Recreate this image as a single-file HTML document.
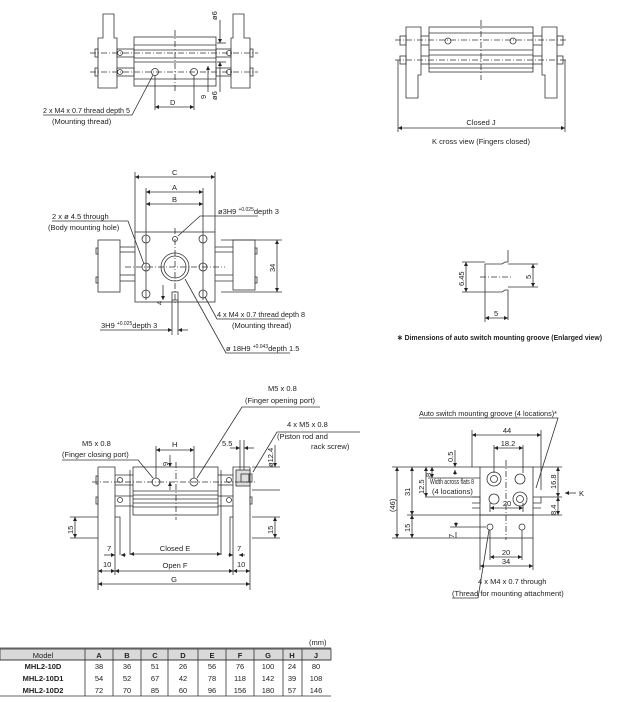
<!DOCTYPE html>
<html><head><meta charset="utf-8"><style>
html,body{margin:0;padding:0;background:#fff}
svg{display:block}
text{font-family:"Liberation Sans",sans-serif;font-size:7.5px;fill:#222}
.b{font-weight:bold}
</style></head><body>
<svg width="617" height="702" viewBox="0 0 617 702" xmlns="http://www.w3.org/2000/svg">
<defs>
<marker id="a" viewBox="0 0 6 6" refX="6" refY="3" markerWidth="5" markerHeight="5" orient="auto-start-reverse"><path d="M0,0L6,3L0,6z" fill="#222"/></marker>
</defs>
<g fill="none" stroke="#333" stroke-width="0.8">
<path d="M103,14H114V38H117V88H98V38H103Z"/>
<path d="M233,14H244V38H250V88H231V38H233Z"/>
<rect x="134" y="37" width="82" height="49"/>
<line x1="134" y1="45" x2="216" y2="45"/><line x1="134" y1="50" x2="216" y2="50"/><line x1="134" y1="58" x2="216" y2="58"/><line x1="134" y1="62" x2="216" y2="62"/><line x1="134" y1="79" x2="216" y2="79"/>
<rect x="117" y="49" width="17" height="8"/><rect x="117" y="68" width="17" height="8"/>
<rect x="216" y="49" width="15" height="8"/><rect x="216" y="68" width="15" height="8"/>
<rect x="95" y="49" width="3" height="8"/><rect x="95" y="68" width="3" height="8"/>
<rect x="250" y="49" width="3" height="8"/><rect x="250" y="68" width="3" height="8"/>
<circle cx="120" cy="53" r="2.5"/><circle cx="120" cy="72" r="2.5"/><circle cx="229" cy="53" r="2.5"/><circle cx="229" cy="72" r="2.5"/>
<circle cx="155" cy="72" r="3.5"/><circle cx="194" cy="72" r="3.5"/>
<line x1="175" y1="30" x2="175" y2="92" stroke-dasharray="6,2,1,2"/>
<line x1="90" y1="53" x2="258" y2="53" stroke-dasharray="6,2,1,2"/><line x1="90" y1="72" x2="258" y2="72" stroke-dasharray="6,2,1,2"/>
<line x1="155" y1="76" x2="155" y2="110"/><line x1="194" y1="76" x2="194" y2="110"/>
<line x1="155" y1="107" x2="194" y2="107" marker-start="url(#a)" marker-end="url(#a)"/>
<line x1="208" y1="66" x2="208" y2="92" marker-start="url(#a)"/>
<line x1="220" y1="20" x2="220" y2="43" marker-end="url(#a)"/><line x1="220" y1="62" x2="220" y2="92" marker-start="url(#a)"/>
<line x1="217" y1="43" x2="226" y2="43"/><line x1="217" y1="62" x2="226" y2="62"/>
<polyline points="43,115 132,115 153,75"/>
<rect x="135" y="232" width="80" height="70"/>
<line x1="135" y1="172" x2="135" y2="232"/><line x1="215" y1="172" x2="215" y2="232"/>
<line x1="146" y1="188" x2="146" y2="300"/><line x1="203" y1="188" x2="203" y2="300"/>
<line x1="135" y1="177" x2="215" y2="177" marker-start="url(#a)" marker-end="url(#a)"/>
<line x1="146" y1="192" x2="203" y2="192" marker-start="url(#a)" marker-end="url(#a)"/>
<line x1="146" y1="204" x2="203" y2="204" marker-start="url(#a)" marker-end="url(#a)"/>
<rect x="98" y="240" width="22" height="52"/><rect x="233" y="240" width="22" height="50"/>
<line x1="120" y1="247" x2="135" y2="247"/><line x1="120" y1="252" x2="135" y2="252"/><line x1="120" y1="275" x2="135" y2="275"/><line x1="120" y1="281" x2="135" y2="281"/>
<line x1="215" y1="247" x2="233" y2="247"/><line x1="215" y1="252" x2="233" y2="252"/><line x1="215" y1="275" x2="233" y2="275"/><line x1="215" y1="281" x2="233" y2="281"/>
<rect x="96" y="248" width="2" height="6"/><rect x="96" y="277" width="2" height="6"/><rect x="255" y="248" width="2" height="6"/><rect x="255" y="277" width="2" height="6"/>
<circle cx="175" cy="267" r="14"/><circle cx="175" cy="267" r="11"/>
<circle cx="146" cy="239" r="4"/><circle cx="203" cy="239" r="4"/><circle cx="146" cy="294" r="4"/><circle cx="203" cy="294" r="4"/>
<circle cx="146" cy="267" r="4"/><circle cx="203" cy="267" r="4"/><circle cx="175" cy="239" r="2.5"/>
<rect x="172" y="292" width="6" height="8"/>
<line x1="175" y1="228" x2="175" y2="305" stroke-dasharray="6,2,1,2"/><line x1="125" y1="267" x2="225" y2="267" stroke-dasharray="6,2,1,2"/>
<line x1="221" y1="240" x2="282" y2="240"/><line x1="221" y1="292" x2="282" y2="292"/>
<line x1="277" y1="240" x2="277" y2="292" marker-start="url(#a)" marker-end="url(#a)"/>
<line x1="172" y1="300" x2="172" y2="335"/><line x1="178" y1="300" x2="178" y2="335"/>
<line x1="162" y1="330" x2="172" y2="330" marker-end="url(#a)"/><line x1="188" y1="330" x2="178" y2="330" marker-end="url(#a)"/>
<polyline points="100,330 162,330"/>
<line x1="163" y1="285" x2="163" y2="300" marker-end="url(#a)"/>
<polyline points="52,221 128,221 144,264"/>
<polyline points="258,216 200,216 178,236"/>
<polyline points="285,319 217,319 205,297"/>
<polyline points="290,353 226,353 185,279"/>
<path d="M406,27H421V75H418V98H406Z"/><path d="M542,27H557V98H545V75H542Z"/>
<rect x="429" y="27" width="104" height="45"/>
<line x1="429" y1="33" x2="533" y2="33"/><line x1="429" y1="50" x2="533" y2="50"/><line x1="429" y1="55" x2="533" y2="55"/><line x1="429" y1="64" x2="533" y2="64"/><line x1="429" y1="68" x2="533" y2="68"/>
<line x1="421" y1="36" x2="429" y2="36"/><line x1="421" y1="45" x2="429" y2="45"/><line x1="421" y1="56" x2="429" y2="56"/><line x1="421" y1="64" x2="429" y2="64"/>
<line x1="533" y1="36" x2="542" y2="36"/><line x1="533" y1="45" x2="542" y2="45"/><line x1="533" y1="56" x2="542" y2="56"/><line x1="533" y1="64" x2="542" y2="64"/>
<rect x="400" y="36" width="6" height="9"/><rect x="400" y="56" width="6" height="8"/><rect x="557" y="36" width="6" height="9"/><rect x="557" y="56" width="6" height="8"/>
<circle cx="448" cy="41" r="3"/><circle cx="513" cy="41" r="3"/>
<line x1="481" y1="20" x2="481" y2="80" stroke-dasharray="6,2,1,2"/>
<line x1="395" y1="40" x2="568" y2="40" stroke-dasharray="6,2,1,2"/><line x1="395" y1="60" x2="568" y2="60" stroke-dasharray="6,2,1,2"/>
<line x1="398" y1="60" x2="398" y2="132"/><line x1="565" y1="60" x2="565" y2="132"/>
<line x1="398" y1="128" x2="565" y2="128" marker-start="url(#a)" marker-end="url(#a)"/>
<path d="M508,250V262H505L502,264H485V292H502L505,290H508V320"/>
<line x1="508" y1="264" x2="538" y2="264"/><line x1="508" y1="287" x2="538" y2="287"/>
<line x1="480" y1="277" x2="512" y2="277" stroke-dasharray="6,2,1,2"/>
<line x1="462" y1="262" x2="485" y2="262"/><line x1="462" y1="292" x2="485" y2="292"/>
<line x1="466" y1="262" x2="466" y2="292" marker-start="url(#a)" marker-end="url(#a)"/>
<line x1="533" y1="264" x2="533" y2="287" marker-start="url(#a)" marker-end="url(#a)"/>
<line x1="485" y1="292" x2="485" y2="322"/>
<line x1="485" y1="318" x2="508" y2="318" marker-start="url(#a)" marker-end="url(#a)"/>
<rect x="133" y="467" width="85" height="48"/>
<line x1="133" y1="491" x2="218" y2="491"/><line x1="133" y1="495" x2="218" y2="495"/><line x1="133" y1="499" x2="218" y2="499"/><line x1="133" y1="503" x2="218" y2="503"/><line x1="133" y1="507" x2="218" y2="507"/>
<path d="M98,467H115V517H120V555"/><line x1="98" y1="467" x2="98" y2="590"/><line x1="115" y1="517" x2="115" y2="575"/>
<path d="M250,467H233V517H230V555"/><line x1="250" y1="467" x2="250" y2="590"/><line x1="233" y1="517" x2="233" y2="575"/>
<line x1="130" y1="470" x2="130" y2="555"/><line x1="221" y1="470" x2="221" y2="555"/>
<line x1="115" y1="475" x2="133" y2="475"/><line x1="115" y1="485" x2="133" y2="485"/><line x1="115" y1="496" x2="133" y2="496"/><line x1="115" y1="506" x2="133" y2="506"/>
<line x1="218" y1="475" x2="233" y2="475"/><line x1="218" y1="485" x2="233" y2="485"/><line x1="218" y1="496" x2="233" y2="496"/><line x1="218" y1="506" x2="233" y2="506"/>
<circle cx="120" cy="480" r="2.5"/><circle cx="120" cy="500" r="2.5"/><circle cx="229" cy="480" r="2.5"/><circle cx="229" cy="500" r="2.5"/>
<rect x="96" y="476" width="2" height="8"/><rect x="96" y="497" width="2" height="7"/><rect x="250" y="497" width="2" height="7"/>
<rect x="236" y="470" width="14" height="16" fill="#ddd"/><rect x="241" y="474" width="8" height="8"/><rect x="249" y="474" width="3" height="8"/>
<circle cx="156" cy="482" r="4"/><circle cx="194" cy="482" r="4"/>
<line x1="176" y1="462" x2="176" y2="520" stroke-dasharray="6,2,1,2"/><line x1="92" y1="482" x2="256" y2="482" stroke-dasharray="6,2,1,2"/>
<line x1="156" y1="446" x2="156" y2="478"/><line x1="194" y1="446" x2="194" y2="478"/>
<line x1="156" y1="450" x2="194" y2="450" marker-start="url(#a)" marker-end="url(#a)"/>
<line x1="170" y1="455" x2="170" y2="467" marker-end="url(#a)"/><line x1="170" y1="490" x2="170" y2="482" marker-end="url(#a)"/>
<line x1="240" y1="440" x2="240" y2="470"/><line x1="244" y1="440" x2="244" y2="470"/>
<line x1="230" y1="448" x2="240" y2="448" marker-end="url(#a)"/><line x1="254" y1="448" x2="244" y2="448" marker-end="url(#a)"/>
<line x1="252" y1="467" x2="280" y2="467"/><line x1="252" y1="490" x2="280" y2="490"/>
<line x1="275" y1="445" x2="275" y2="467" marker-end="url(#a)"/>
<line x1="70" y1="517" x2="98" y2="517"/><line x1="70" y1="538" x2="98" y2="538"/>
<line x1="75" y1="517" x2="75" y2="538" marker-start="url(#a)" marker-end="url(#a)"/>
<line x1="252" y1="517" x2="280" y2="517"/><line x1="252" y1="538" x2="280" y2="538"/>
<line x1="275" y1="517" x2="275" y2="538" marker-start="url(#a)" marker-end="url(#a)"/>
<line x1="104" y1="555" x2="115" y2="555" marker-end="url(#a)"/><line x1="126" y1="555" x2="121" y2="555" marker-end="url(#a)"/>
<line x1="228" y1="555" x2="233" y2="555" marker-end="url(#a)"/><line x1="245" y1="555" x2="239" y2="555" marker-end="url(#a)"/>
<line x1="130" y1="554" x2="221" y2="554" marker-start="url(#a)" marker-end="url(#a)"/>
<line x1="98" y1="571" x2="115" y2="571" marker-start="url(#a)" marker-end="url(#a)"/>
<line x1="115" y1="571" x2="233" y2="571" marker-start="url(#a)" marker-end="url(#a)"/>
<line x1="233" y1="571" x2="250" y2="571" marker-start="url(#a)" marker-end="url(#a)"/>
<line x1="98" y1="584" x2="250" y2="584" marker-start="url(#a)" marker-end="url(#a)"/>
<polyline points="62,460 138,460 153,478"/>
<polyline points="320,407 242,407 197,478"/>
<polyline points="360,432 277,432 253,472"/>
<rect x="480" y="467" width="53" height="48"/>
<rect x="480" y="515" width="53" height="23"/>
<line x1="480" y1="538" x2="480" y2="570"/><line x1="533" y1="538" x2="533" y2="570"/>
<line x1="472" y1="430" x2="472" y2="467"/><line x1="541" y1="430" x2="541" y2="490"/>
<line x1="472" y1="435" x2="541" y2="435" marker-start="url(#a)" marker-end="url(#a)"/>
<line x1="494" y1="445" x2="494" y2="473"/><line x1="523" y1="445" x2="523" y2="473"/>
<line x1="494" y1="448" x2="523" y2="448" marker-start="url(#a)" marker-end="url(#a)"/>
<circle cx="494" cy="479" r="7"/><circle cx="494" cy="479" r="3.5"/><circle cx="520" cy="479" r="5"/>
<circle cx="494" cy="499" r="5"/><circle cx="520" cy="499" r="7"/><circle cx="520" cy="499" r="3.5"/>
<circle cx="490" cy="527" r="3"/><circle cx="522" cy="527" r="3"/>
<path d="M472,497h8v6h-8M533,497h8v6h-8M472,508h8M533,508h8"/>
<line x1="506" y1="460" x2="506" y2="540" stroke-dasharray="6,2,1,2"/>
<line x1="490" y1="503" x2="490" y2="512"/><line x1="523" y1="503" x2="523" y2="512"/>
<line x1="490" y1="508" x2="523" y2="508" marker-start="url(#a)" marker-end="url(#a)"/>
<line x1="490" y1="530" x2="490" y2="560"/><line x1="522" y1="530" x2="522" y2="560"/>
<line x1="490" y1="557" x2="522" y2="557" marker-start="url(#a)" marker-end="url(#a)"/>
<line x1="480" y1="566" x2="533" y2="566" marker-start="url(#a)" marker-end="url(#a)"/>
<line x1="392" y1="467" x2="480" y2="467"/><line x1="392" y1="538" x2="480" y2="538"/><line x1="407" y1="515" x2="480" y2="515"/>
<line x1="428" y1="478" x2="480" y2="478"/><line x1="425" y1="497" x2="480" y2="497"/>
<line x1="397" y1="467" x2="397" y2="538" marker-start="url(#a)" marker-end="url(#a)"/>
<line x1="412" y1="467" x2="412" y2="515" marker-start="url(#a)" marker-end="url(#a)"/>
<line x1="412" y1="515" x2="412" y2="538" marker-start="url(#a)" marker-end="url(#a)"/>
<line x1="426" y1="467" x2="426" y2="497" marker-start="url(#a)" marker-end="url(#a)"/>
<line x1="432" y1="467" x2="432" y2="478" marker-start="url(#a)" marker-end="url(#a)"/>
<line x1="456" y1="522" x2="456" y2="527" marker-end="url(#a)"/><line x1="456" y1="538" x2="456" y2="532"/>
<line x1="450" y1="527" x2="486" y2="527"/>
<line x1="455" y1="450" x2="455" y2="467" marker-end="url(#a)"/><line x1="455" y1="470" x2="455" y2="475" marker-start="url(#a)"/>
<line x1="533" y1="467" x2="562" y2="467"/><line x1="541" y1="497" x2="562" y2="497"/><line x1="533" y1="515" x2="562" y2="515"/>
<line x1="558" y1="467" x2="558" y2="497" marker-start="url(#a)" marker-end="url(#a)"/>
<line x1="558" y1="497" x2="558" y2="515" marker-start="url(#a)" marker-end="url(#a)"/>
<line x1="576" y1="493" x2="565" y2="493" marker-end="url(#a)"/>
<polyline points="419,418 558,418 536,488"/>
<polyline points="452,598 478,598 489,530"/>
</g>
<g stroke="#333" stroke-width="0.8">
<rect x="0" y="649" width="331" height="11" fill="#d9d9d9"/>
<line x1="0" y1="648" x2="331" y2="648"/><line x1="0" y1="660" x2="331" y2="660"/><line x1="0" y1="696" x2="331" y2="696"/>
<line x1="85" y1="649" x2="85" y2="696"/><line x1="113" y1="649" x2="113" y2="696"/><line x1="141" y1="649" x2="141" y2="696"/><line x1="168" y1="649" x2="168" y2="696"/><line x1="198" y1="649" x2="198" y2="696"/><line x1="226" y1="649" x2="226" y2="696"/><line x1="254" y1="649" x2="254" y2="696"/><line x1="283" y1="649" x2="283" y2="696"/><line x1="302" y1="649" x2="302" y2="696"/>
</g>
<text x="43" y="113" textLength="87" lengthAdjust="spacingAndGlyphs">2 x M4 x 0.7 thread depth 5</text>
<text x="52" y="124">(Mounting thread)</text>
<text x="170" y="105" font-size="10">D</text>
<text transform="translate(206,99) rotate(-90)">9</text>
<text transform="translate(217,20) rotate(-90)">ø6</text>
<text transform="translate(217,100) rotate(-90)">ø6</text>
<text x="172" y="175">C</text><text x="172" y="190">A</text><text x="172" y="202">B</text>
<text x="52" y="219">2 x ø 4.5 through</text><text x="48" y="230" font-size="7">(Body mounting hole)</text>
<text x="218" y="214">ø3H9 <tspan font-size="5" dy="-3">+0.025</tspan><tspan dy="3">depth 3</tspan></text>
<text transform="translate(275,272) rotate(-90)">34</text>
<text transform="translate(162,305) rotate(-90)">4</text>
<text x="217" y="317" textLength="88" lengthAdjust="spacingAndGlyphs">4 x M4 x 0.7 thread depth 8</text><text x="232" y="328">(Mounting thread)</text>
<text x="101" y="328">3H9 <tspan font-size="5" dy="-3">+0.025</tspan><tspan dy="3">depth 3</tspan></text>
<text x="226" y="351">ø 18H9 <tspan font-size="5" dy="-3">+0.043</tspan><tspan dy="3">depth 1.5</tspan></text>
<text x="481" y="125" text-anchor="middle">Closed J</text>
<text x="481" y="144" text-anchor="middle">K cross view (Fingers closed)</text>
<text transform="translate(464,286) rotate(-90)">6.45</text>
<text transform="translate(531,279) rotate(-90)">5</text>
<text x="494" y="316">5</text>
<text x="397" y="340" font-size="6.5" class="b" textLength="205" lengthAdjust="spacingAndGlyphs">∗ Dimensions of auto switch mounting groove (Enlarged view)</text>
<text x="82" y="446">M5 x 0.8</text><text x="62" y="457" font-size="7">(Finger closing port)</text>
<text x="268" y="391">M5 x 0.8</text><text x="245" y="403" font-size="7">(Finger opening port)</text>
<text x="287" y="427">4 x M5 x 0.8</text><text x="277" y="439">(Piston rod and</text><text x="311" y="449">rack screw)</text>
<text x="172" y="447">H</text>
<text transform="translate(168,466) rotate(-90)">9</text>
<text x="222" y="446">5.5</text>
<text transform="translate(273,467) rotate(-90)">ø12.4</text>
<text transform="translate(73,534) rotate(-90)">15</text><text transform="translate(273,534) rotate(-90)">15</text>
<text x="107" y="551">7</text><text x="237" y="551">7</text>
<text x="103" y="567">10</text><text x="237" y="567">10</text>
<text x="175" y="551" text-anchor="middle">Closed E</text>
<text x="175" y="568" text-anchor="middle">Open F</text>
<text x="174" y="582" text-anchor="middle">G</text>
<text x="419" y="416" textLength="138" lengthAdjust="spacingAndGlyphs">Auto switch mounting groove (4 locations)*</text>
<text x="507" y="433" text-anchor="middle">44</text><text x="508" y="446" text-anchor="middle">18.2</text>
<text x="507" y="506" text-anchor="middle">20</text><text x="506" y="555" text-anchor="middle">20</text><text x="506" y="564" text-anchor="middle">34</text>
<text transform="translate(453,462) rotate(-90)">0.5</text>
<text transform="translate(395,512) rotate(-90)">(46)</text>
<text transform="translate(410,496) rotate(-90)">31</text>
<text transform="translate(410,532) rotate(-90)">15</text>
<text transform="translate(424,494) rotate(-90)">12.5</text>
<text transform="translate(431,477) rotate(-90)">8</text>
<text transform="translate(454,538) rotate(-90)">7</text>
<text transform="translate(556,489) rotate(-90)">16.8</text>
<text transform="translate(556,515) rotate(-90)">8.4</text>
<text x="430" y="484" font-size="4" textLength="44" lengthAdjust="spacingAndGlyphs">Width across flats 8</text>
<text x="432" y="494">(4 locations)</text>
<text x="579" y="496">K</text>
<text x="478" y="584">4 x M4 x 0.7 through</text>
<text x="452" y="596" font-size="7">(Thread for mounting attachment)</text>
<text x="309" y="645">(mm)</text>
<g text-anchor="middle">
<text x="43" y="658">Model</text><text x="99" y="658" class="b">A</text><text x="127" y="658" class="b">B</text><text x="155" y="658" class="b">C</text><text x="183" y="658" class="b">D</text><text x="212" y="658" class="b">E</text><text x="240" y="658" class="b">F</text><text x="268" y="658" class="b">G</text><text x="292" y="658" class="b">H</text><text x="316" y="658" class="b">J</text>
<text x="43" y="669" class="b">MHL2-10D</text><text x="99" y="669">38</text><text x="127" y="669">36</text><text x="155" y="669">51</text><text x="183" y="669">26</text><text x="212" y="669">56</text><text x="240" y="669">76</text><text x="268" y="669">100</text><text x="292" y="669">24</text><text x="316" y="669">80</text>
<text x="43" y="681" class="b">MHL2-10D1</text><text x="99" y="681">54</text><text x="127" y="681">52</text><text x="155" y="681">67</text><text x="183" y="681">42</text><text x="212" y="681">78</text><text x="240" y="681">118</text><text x="268" y="681">142</text><text x="292" y="681">39</text><text x="316" y="681">108</text>
<text x="43" y="693" class="b">MHL2-10D2</text><text x="99" y="693">72</text><text x="127" y="693">70</text><text x="155" y="693">85</text><text x="183" y="693">60</text><text x="212" y="693">96</text><text x="240" y="693">156</text><text x="268" y="693">180</text><text x="292" y="693">57</text><text x="316" y="693">146</text>
</g>
</svg>
</body></html>
